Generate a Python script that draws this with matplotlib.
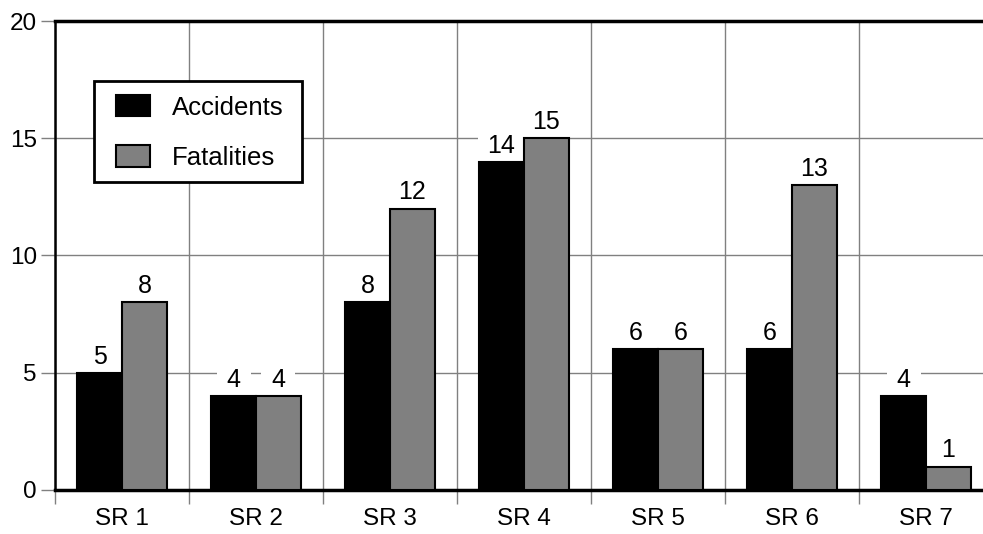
import numpy as np
import matplotlib
matplotlib.use("Agg")
import matplotlib.pyplot as plt
from matplotlib.patches import Rectangle

plt.rcParams['font.family'] = ['Liberation Sans', 'DejaVu Sans']

routes = ["SR 1", "SR 2", "SR 3", "SR 4", "SR 5", "SR 6", "SR 7"]
accidents = [5, 4, 8, 14, 6, 6, 4]
fatalities = [8, 4, 12, 15, 6, 13, 1]

W, H = 983, 534
fig = plt.figure(figsize=(W / 100, H / 100), dpi=100)
# axes run slightly past the right edge of the figure
ax = fig.add_axes([55 / W, 1 - 490 / H, 938 / W, 469 / H])

x = np.arange(len(routes))
bw = 0.335
b1 = ax.bar(x - bw / 2, accidents, bw, color="black", edgecolor="black",
            linewidth=1.5, label="Accidents", zorder=3)
b2 = ax.bar(x + bw / 2, fatalities, bw, color="#808080", edgecolor="black",
            linewidth=1.5, label="Fatalities", zorder=3)

# value labels sit above the grid but under the bars
for bars in (b1, b2):
    for rect in bars:
        v = rect.get_height()
        ax.annotate(f"{v:g}", (rect.get_x() + rect.get_width() / 2, v),
                    xytext=(0, 3), textcoords="offset points",
                    ha="center", va="bottom", fontsize=18, zorder=2.5,
                    bbox=dict(boxstyle="square,pad=0.4", fc="white", ec="none"))

ax.set_xlim(-0.5, 6.5)
ax.set_ylim(0, 20)
ax.set_yticks([0, 5, 10, 15, 20])
ax.set_xticks(x)
ax.set_xticklabels(routes)
ax.set_xticks(np.arange(-0.5, 7, 1), minor=True)

ax.grid(True, which="minor", axis="x", color="#808080", linewidth=1, zorder=0)
ax.grid(True, which="major", axis="y", color="#808080", linewidth=1, zorder=0)
ax.set_axisbelow(True)

ax.tick_params(axis="x", which="major", length=0, pad=13, labelsize=17.5)
ax.tick_params(axis="x", which="minor", length=10, width=1, color="#808080")
ax.tick_params(axis="y", which="major", length=10, width=1, color="#808080",
               pad=3, labelsize=17.5)

ax.spines["right"].set_visible(False)
ax.spines["top"].set_linewidth(2.5)
ax.spines["bottom"].set_linewidth(2.5)
ax.spines["left"].set_linewidth(1.8)

# legend frame drawn separately so the padding can differ left/top
frame = Rectangle((94 / W, 1 - 182 / H), 208 / W, 101 / H,
                  transform=fig.transFigure, facecolor="white",
                  edgecolor="black", linewidth=2, zorder=2)
fig.add_artist(frame)

leg = fig.legend(handles=[b1, b2], labels=["Accidents", "Fatalities"],
                 loc="upper left", bbox_to_anchor=(116 / W, 1 - 95 / H),
                 bbox_transform=fig.transFigure, borderaxespad=0,
                 fontsize=18.5, frameon=False, borderpad=0,
                 handlelength=1.32, handleheight=0.9, handletextpad=0.86,
                 labelspacing=1.0)
leg.set_zorder(5)

fig.savefig("out.png", dpi=100)
